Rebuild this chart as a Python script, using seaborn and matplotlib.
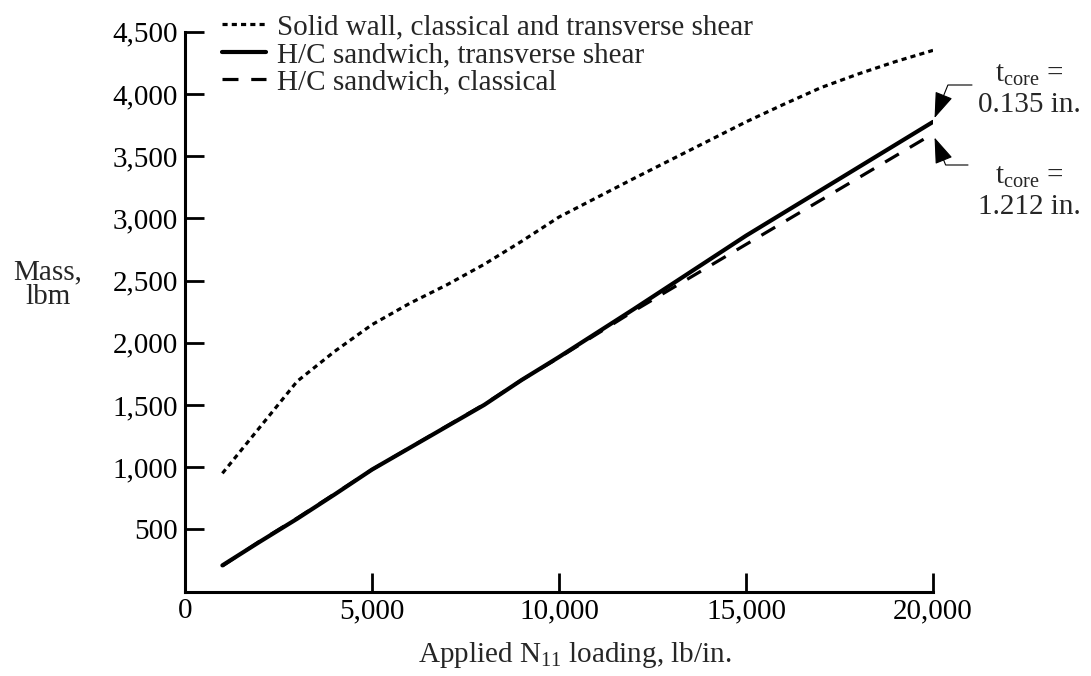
import matplotlib
matplotlib.use("Agg")
import matplotlib.pyplot as plt
import seaborn as sns
import pandas as pd

# ---- data ----
wall_x = [1000, 2000, 3000, 4000, 5000, 6000, 7000, 8000, 9000, 10000, 12000, 15000, 16000, 17000, 18000, 19000, 20000]
wall_y = [950, 1320, 1690, 1930, 2145, 2315, 2465, 2630, 2815, 3010, 3320, 3775, 3915, 4050, 4160, 4260, 4350]

shear_x = [1000, 2000, 3000, 4000, 5000, 8000, 9000, 10000, 12000, 15000, 20000]
shear_y = [210, 400, 585, 780, 980, 1500, 1700, 1885, 2270, 2860, 3775]

class_x = [1000, 2000, 3000, 4000, 5000, 8000, 9000, 10000, 12000, 15000, 20000]
class_y = [205, 405, 590, 785, 980, 1505, 1700, 1880, 2255, 2790, 3680]

labels = ["Solid wall, classical and transverse shear",
          "H/C sandwich, transverse shear",
          "H/C sandwich, classical"]
xticks = [0, 5000, 10000, 15000, 20000]
xticklabels = ["0", "5,000", "10,000", "15,000", "20,000"]
yticks = [500, 1000, 1500, 2000, 2500, 3000, 3500, 4000, 4500]
yticklabels = ["500", "1,000", "1,500", "2,000", "2,500", "3,000", "3,500", "4,000", "4,500"]
ann_top = ["t$_{\\mathrm{core}}$ =", "0.135 in."]
ann_bot = ["t$_{\\mathrm{core}}$ =", "1.212 in."]

sns.set_style("ticks")
plt.rcParams["font.family"] = ["Liberation Serif", "DejaVu Serif"]
plt.rcParams["mathtext.fontset"] = "custom"
plt.rcParams["mathtext.rm"] = "Liberation Serif"
plt.rcParams["mathtext.it"] = "Liberation Serif:italic"

FS = 21
W, H = 1091, 676
fig = plt.figure(figsize=(W / 100, H / 100), dpi=100)
ax = fig.add_axes([185 / W, 1 - 591.5 / H, (933 - 185) / W, (591.5 - 31.7) / H])

df_w = pd.DataFrame({"x": wall_x, "y": wall_y})
df_s = pd.DataFrame({"x": shear_x, "y": shear_y})
df_c = pd.DataFrame({"x": class_x, "y": class_y})

sns.lineplot(data=df_w, x="x", y="y", ax=ax, color="black", lw=2.3,
             linestyle=(0, (1.6, 1.3)), label=labels[0])
sns.lineplot(data=df_s, x="x", y="y", ax=ax, color="black", lw=3.0,
             linestyle="-", label=labels[1])
sns.lineplot(data=df_c, x="x", y="y", ax=ax, color="black", lw=2.3,
             linestyle=(0, (5, 4)), label=labels[2])

ax.set_xlim(0, 20000)
ax.set_ylim(0, 4500)
ax.set_xticks(xticks)
ax.set_xticklabels(xticklabels)
ax.set_yticks(yticks)
ax.set_yticklabels(yticklabels)
ax.tick_params(direction="in", length=14, width=2.0, labelsize=FS, pad=5, colors="black")
for s in ["top", "right"]:
    ax.spines[s].set_visible(False)
for s in ["left", "bottom"]:
    ax.spines[s].set_linewidth(2.2)
    ax.spines[s].set_color("black")
ax.set_xlabel("")
ax.set_ylabel("")

fig.text(48 / W, 1 - 285 / H, "Mass,\nlbm", ha="center", va="center", fontsize=FS,
         linespacing=0.95)
fig.text(575 / W, 1 - 655 / H, "Applied N$_{\\mathrm{11}}$ loading, lb/in.", ha="center",
         va="center", fontsize=FS)

leg = ax.legend(loc="upper left", bbox_to_anchor=(222 / W, 1 - 14 / H),
                bbox_transform=fig.transFigure, frameon=False, fontsize=FS,
                handlelength=1.5, handletextpad=0.4, labelspacing=0.04,
                borderaxespad=0, borderpad=0)

# annotations
for txt, ty in zip(ann_top + ann_bot, [75, 105, 177, 207]):
    fig.text(1029 / W, 1 - ty / H, txt, ha="center", va="center", fontsize=FS)

arrow_kw = dict(arrowstyle="-|>,head_length=0.9,head_width=0.32", color="black",
                lw=0.8, shrinkA=0, shrinkB=3, mutation_scale=18)
ax.annotate("", xy=(shear_x[-1], shear_y[-1]), xycoords="data",
            xytext=(972, H - 85), textcoords="figure pixels",
            arrowprops=dict(connectionstyle="angle,angleA=0,angleB=68,rad=0", **arrow_kw))
ax.annotate("", xy=(class_x[-1], class_y[-1]), xycoords="data",
            xytext=(968, H - 165), textcoords="figure pixels",
            arrowprops=dict(connectionstyle="angle,angleA=0,angleB=-68,rad=0", **arrow_kw))

fig.savefig("out.png", dpi=100)
